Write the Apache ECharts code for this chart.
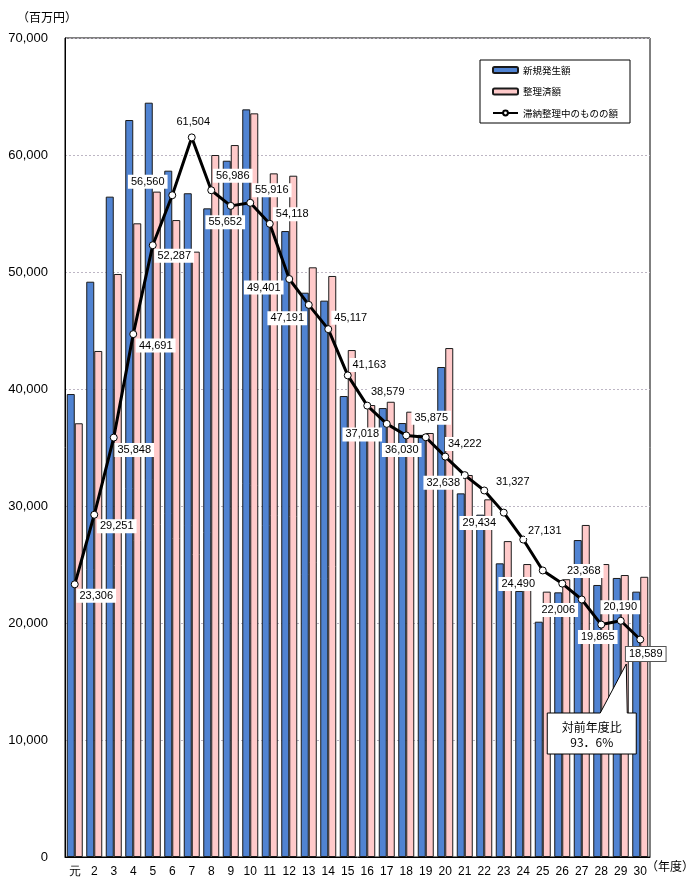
<!DOCTYPE html>
<html>
<head>
<meta charset="utf-8">
<script src="https://cdn.jsdelivr.net/npm/echarts@6/dist/echarts.min.js"></script>
<style>
html,body{margin:0;padding:0;background:#fff;}
#c{width:693px;height:894px;}
</style>
</head>
<body>
<div id="c"></div>
<script>
// ---- data ----
const categories = ['元','2','3','4','5','6','7','8','9','10','11','12','13','14','15','16','17','18','19','20','21','22','23','24','25','26','27','28','29','30'];
const newAmount = [39570,49170,56440,62990,64470,58660,56730,55440,59510,63900,56630,53500,48230,47550,39400,36050,38370,37090,36080,41880,31080,29260,25100,22740,20110,22620,27090,23250,23850,22680];
const settledAmount = [37070,43250,49830,54160,56870,54440,51740,60000,60850,63560,58430,58230,50400,49660,43330,38630,38910,38060,36240,43500,32650,30570,27000,25040,22680,23740,28380,25040,24100,23950];
const pendingAmount = [23306,29251,35848,44691,52287,56560,61504,56986,55652,55916,54118,49401,47191,45117,41163,38579,37018,36030,35875,34222,32638,31327,29434,27131,24490,23368,22006,19865,20190,18589];
const seriesNames = ['新規発生額','整理済額','滞納整理中のものの額'];
const yTicks = {min:0, max:70000, interval:10000};
const yUnit = '（百万円）';
const xUnit = '（年度）';
const ratioText = ['対前年度比','93．6%'];

// label placement (layout only): offsets of each value label from its point
const labelOffsets = [[22,12],[23,12],[21,13],[23,12],[22,11],[-24,-13],[2,-15],[22,-14],[-5,17],[22,-12],
  [23,-9],[-25,9],[-21,14],[23,-11],[22,-10],[21,-13],[-24,11],[-4,15],[6,-19],[20,-12],
  [-21,8],[29,-8],[-24,11],[22,-8],[-24,14],[22,-12],[-23,11],[-3,13],[0,-13],[6,15]];

const numFont = '"Liberation Sans", Arial, sans-serif';
const jpFont = '"Noto Sans CJK JP", sans-serif';
const SYM = 7;

const chart = echarts.init(document.getElementById('c'), null, {renderer:'canvas'});

const lineData = pendingAmount.map((v, i) => {
  const last = i === pendingAmount.length - 1;
  return {
    value: v,
    label: {
      position: [SYM/2 + labelOffsets[i][0], SYM/2 + labelOffsets[i][1]],
      borderColor: last ? '#555' : 'transparent',
      borderWidth: last ? 1 : 0
    }
  };
});

const baseGraphic = [
  {type:'text', left:17, top:11, style:{text:yUnit, fontSize:12, fontFamily:jpFont, fill:'#000'}},
  {type:'text', left:646, top:860, style:{text:xUnit, fontSize:12, fontFamily:jpFont, fill:'#000'}}
];

chart.setOption({
  animation: false,
  backgroundColor: '#fff',
  grid: {left:65, right:43, top:38, bottom:37, show:true, borderColor:'#000', borderWidth:1, backgroundColor:'transparent'},
  legend: {
    orient:'vertical', left:480, top:60,
    padding:[5,12,5,12], itemGap:11.5, itemWidth:25, itemHeight:6,
    borderColor:'#000', borderWidth:1, backgroundColor:'#fff', borderRadius:0,
    textStyle:{fontSize:9.5, fontFamily:jpFont, color:'#000', lineHeight:10},
    data: seriesNames
  },
  xAxis: {
    type:'category', data:categories,
    axisLine:{show:true, lineStyle:{color:'#000', width:1}},
    axisTick:{show:false},
    axisLabel:{color:'#000', fontSize:12, fontFamily:numFont, margin:9, interval:0},
    splitLine:{show:false}
  },
  yAxis: {
    type:'value', min:yTicks.min, max:yTicks.max, interval:yTicks.interval,
    axisLine:{show:true, lineStyle:{color:'#000', width:1}},
    axisTick:{show:false},
    axisLabel:{color:'#000', fontSize:13, fontFamily:numFont, margin:17,
      formatter: v => v.toLocaleString('en-US')},
    splitLine:{show:true, lineStyle:{color:'#bdb6c4', type:[2,2], width:1}}
  },
  series: [
    {
      name: seriesNames[0], type:'bar', data:newAmount,
      barWidth:8, barGap:'0%',
      itemStyle:{color:'#5083d2', borderColor:'#1a1a1a', borderWidth:1}
    },
    {
      name: seriesNames[1], type:'bar', data:settledAmount,
      barWidth:8, barGap:'0%',
      itemStyle:{color:'#ffcaca', borderColor:'#1a1a1a', borderWidth:1}
    },
    {
      name: seriesNames[2], type:'line', data:lineData, z:5,
      symbol:'circle', symbolSize:SYM,
      lineStyle:{color:'#000', width:3},
      itemStyle:{color:'#fff', borderColor:'#000', borderWidth:1},
      label:{show:true, color:'#000', fontSize:11, fontFamily:numFont,
        backgroundColor:'#fff', padding:[2,3,1,3], align:'center', verticalAlign:'middle',
        formatter: p => p.value.toLocaleString('en-US')},
      labelLayout:{hideOverlap:false},
      emphasis:{disabled:true}
    }
  ],
  graphic: baseGraphic
});

// callout anchored to the last point
const lastIdx = pendingAmount.length - 1;
const p = chart.convertToPixel({seriesIndex:2}, [lastIdx, pendingAmount[lastIdx]]);
const bx0 = p[0] - 93, bx1 = p[0] - 4, by0 = p[1] + 73.5, by1 = p[1] + 114.5;
chart.setOption({
  graphic: baseGraphic.concat([
    {type:'polygon', z:100, shape:{points:[[bx0,by0],[p[0]-40,by0],[p[0]-14,p[1]+24.5],[p[0]-13,by0],[bx1,by0],[bx1,by1],[bx0,by1]]},
      style:{fill:'#fff', stroke:'#000', lineWidth:1}},
    {type:'text', z:101, x:(bx0+bx1)/2, y:by0+14, style:{text:ratioText[0], fontSize:12, fontFamily:jpFont, fill:'#000', align:'center', verticalAlign:'middle'}},
    {type:'text', z:101, x:(bx0+bx1)/2, y:by0+29.5, style:{text:ratioText[1], fontSize:12, fontFamily:jpFont, fill:'#000', align:'center', verticalAlign:'middle'}}
  ])
}, {replaceMerge:['graphic']});
</script>
</body>
</html>
